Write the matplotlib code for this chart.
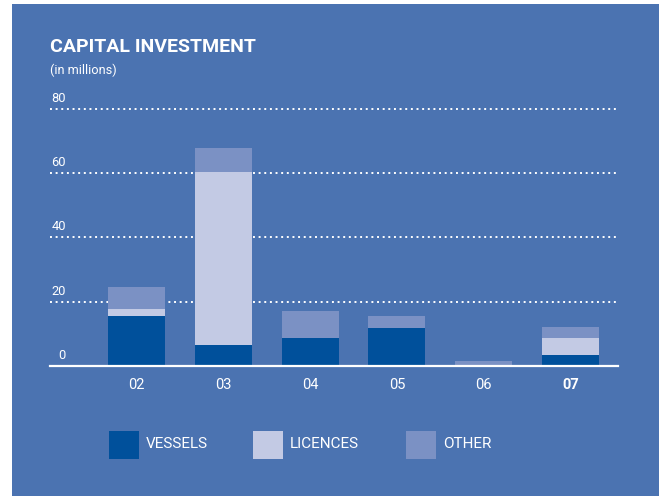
import matplotlib
matplotlib.use("Agg")
import matplotlib.pyplot as plt
from matplotlib.patches import Rectangle
import numpy as np

plt.rcParams['font.family'] = ['Roboto', 'DejaVu Sans']

# capital investment per year, in millions
years = ['02', '03', '04', '05', '06', '07']
vessels = [15.5, 6.5, 8.7, 11.8, 0.0, 3.4]
licences = [2.2, 53.8, 0.0, 0.0, 0.0, 5.3]
other = [6.9, 7.5, 8.4, 3.7, 1.7, 3.4]
series_names = ['VESSELS', 'LICENCES', 'OTHER']
yticks = [0, 20, 40, 60, 80]

bg = '#4b73b1'
colors = ['#00509b', '#c3cae4', '#7b91c4']

W, H = 659, 496
fig = plt.figure(figsize=(W / 100, H / 100), dpi=100)
fig.patch.set_facecolor('white')

def fx(px):
    return px / W

def fy(py):
    return 1 - py / H

# blue panel behind everything
fig.add_artist(Rectangle((fx(12), 0), 1 - fx(12), fy(4), transform=fig.transFigure,
                         facecolor=bg, edgecolor='none', zorder=-10))

ax = fig.add_axes([fx(50), fy(366), fx(618) - fx(50), fy(100) - fy(366)])
ax.set_facecolor('none')
ax.set_xlim(-1.0, 5.55)
ax.set_ylim(0, 266 / 3.216)

x = np.arange(len(years))
width = 0.655
bottom = np.zeros(len(years))
for vals, c in zip([vessels, licences, other], colors):
    ax.bar(x, vals, width, bottom=bottom, color=c, zorder=3)
    bottom += np.array(vals)

# dotted gridlines
for t in yticks[1:]:
    ax.axhline(t, color='white', lw=1.4, ls=(0, (1, 1.9)), zorder=1, clip_on=False)
ax.axhline(0, color='white', lw=1.6, zorder=4, clip_on=False)

for t in yticks:
    ax.annotate(str(t), xy=(0, t), xycoords=('axes fraction', 'data'),
                xytext=(11.5, 3), textcoords='offset points',
                ha='right', va='bottom', color='white', fontsize=9.3)

for s in ax.spines.values():
    s.set_visible(False)
ax.set_yticks([])
ax.set_xticks(x)
ax.set_xticklabels(years, color='white', fontsize=10.5)
ax.tick_params(axis='x', length=0, pad=8.5)
ax.get_xticklabels()[-1].set_fontweight('bold')

fig.text(fx(50), fy(47), 'CAPITAL INVESTMENT', color='white', fontsize=14,
         fontweight='bold', va='center', ha='left')
fig.text(fx(50), fy(70), '(in millions)', color='white', fontsize=9.2,
         va='center', ha='left')

# legend
leg_x = [109, 253, 406]
for name, c, lx in zip(series_names, colors, leg_x):
    fig.add_artist(Rectangle((fx(lx), fy(459)), 30 / W, 28 / H, transform=fig.transFigure,
                             facecolor=c, edgecolor='none'))
    fig.text(fx(lx + 37), fy(444), name, color='white', fontsize=11,
             va='center', ha='left')

fig.savefig('out.png', dpi=100, facecolor=fig.get_facecolor())
